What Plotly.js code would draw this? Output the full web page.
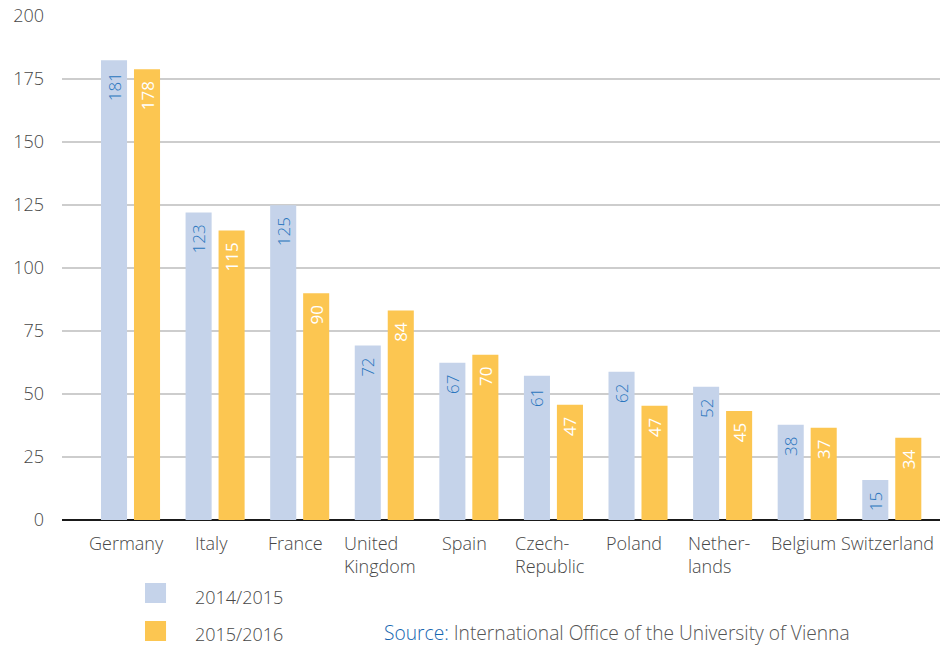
<!DOCTYPE html>
<html>
<head>
<meta charset="utf-8">
<script src="https://cdn.plot.ly/plotly-3.0.1.min.js"></script>
<style>html,body{margin:0;padding:0;background:#fff}#chart{width:940px;height:646px}</style>
</head>
<body>
<div id="chart"></div>
<script>
// Categories (tick labels)
var categories = ["Germany", "Italy", "France", "United<br>Kingdom", "Spain", "Czech-<br>Republic", "Poland", "Nether-<br>lands", "Belgium", "Switzerland"];
var seriesNames = ["2014/2015", "2015/2016"];
// Bar heights as drawn in the picture
var heights2014 = [182.4, 122, 124.9, 69.2, 62.4, 57.2, 58.8, 52.9, 37.8, 15.9];
var heights2015 = [178.9, 114.9, 90, 83.1, 65.6, 45.7, 45.3, 43.3, 36.6, 32.6];
// Value labels printed on the bars
var labels2014 = [181, 123, 125, 72, 67, 61, 62, 52, 38, 15];
var labels2015 = [178, 115, 90, 84, 70, 47, 47, 45, 37, 34];
var yTicks = [0, 25, 50, 75, 100, 125, 150, 175, 200];
var sourceLabel = "Source:";
var sourceText = "International Office of the University of Vienna";

var BLUE = "#C5D3EA", ORANGE = "#FCC651";
var FONT = "Open Sans, Noto Sans, sans-serif";
var W = 300;
var GREY = "#474747";
var idx = categories.map(function (_, i) { return i; });

var traces = [
  {
    type: "bar", name: seriesNames[0], x: idx, y: heights2014, text: labels2014,
    texttemplate: "%{text}\u00a0\u00a0", textposition: "inside", insidetextanchor: "end",
    textangle: -90, constraintext: "none", cliponaxis: false,
    textfont: {family: FONT, size: 17, color: "#2A76BE", weight: W},
    marker: {color: BLUE, line: {width: 0}}, hoverinfo: "skip", showlegend: false
  },
  {
    type: "bar", name: seriesNames[1], x: idx, y: heights2015, text: labels2015,
    texttemplate: "%{text}\u00a0\u00a0", textposition: "inside", insidetextanchor: "end",
    textangle: -90, constraintext: "none", cliponaxis: false,
    textfont: {family: FONT, size: 17, color: "#FFFFFF", weight: 400},
    marker: {color: ORANGE, line: {width: 0}}, hoverinfo: "skip", showlegend: false
  }
];

var annotations = categories.map(function (c, i) {
  return {
    xref: "x", yref: "paper", x: i, y: 0, yanchor: "top", xanchor: "center",
    xshift: -4, yshift: -9, align: "left", showarrow: false, text: c,
    font: {family: FONT, size: 18, color: GREY, weight: W}
  };
});

// legend text
annotations.push({xref: "paper", yref: "paper", x: 0.1492, y: -0.1518, xanchor: "left", yanchor: "middle",
  showarrow: false, text: seriesNames[0], font: {family: FONT, size: 18, color: GREY, weight: W}});
annotations.push({xref: "paper", yref: "paper", x: 0.1492, y: -0.2262, xanchor: "left", yanchor: "middle",
  showarrow: false, text: seriesNames[1], font: {family: FONT, size: 18, color: GREY, weight: W}});
// source
annotations.push({xref: "paper", yref: "paper", x: 0.3645, y: -0.2242, xanchor: "left", yanchor: "middle",
  showarrow: false,
  text: '<span style="color:#1566B0">' + sourceLabel + '</span> ' + sourceText,
  font: {family: FONT, size: 19.2, color: "#555555", weight: W}});

var shapes = [
  {type: "rect", xref: "paper", yref: "paper", x0: 0.0945, x1: 0.1185, y0: -0.125, y1: -0.1647,
   fillcolor: BLUE, line: {width: 0}},
  {type: "rect", xref: "paper", yref: "paper", x0: 0.0945, x1: 0.1185, y0: -0.2004, y1: -0.2401,
   fillcolor: ORANGE, line: {width: 0}}
];

var layout = {
  width: 940, height: 646,
  margin: {l: 62, r: 0, t: 16, b: 126, pad: 0},
  paper_bgcolor: "#ffffff", plot_bgcolor: "#ffffff",
  barmode: "group", bargap: 0.22, bargroupgap: 0.21,
  showlegend: false,
  font: {family: FONT, size: 18, color: GREY, weight: W},
  xaxis: {
    range: [-0.81, 9.57], showticklabels: false, showgrid: false, zeroline: false,
    showline: false, ticks: "", fixedrange: true
  },
  yaxis: {
    range: [0, 200], tickvals: yTicks, ticktext: yTicks.map(String),
    showgrid: true, gridcolor: "#CDCDCD", gridwidth: 1.6,
    zeroline: true, zerolinecolor: "#1a1a1a", zerolinewidth: 2.4,
    showline: false, ticks: "", ticklabelstandoff: 17,
    tickfont: {family: FONT, size: 18, color: GREY, weight: W}, fixedrange: true
  },
  annotations: annotations,
  shapes: shapes
};

Plotly.newPlot("chart", traces, layout, {displayModeBar: false, staticPlot: true});
</script>
</body>
</html>
